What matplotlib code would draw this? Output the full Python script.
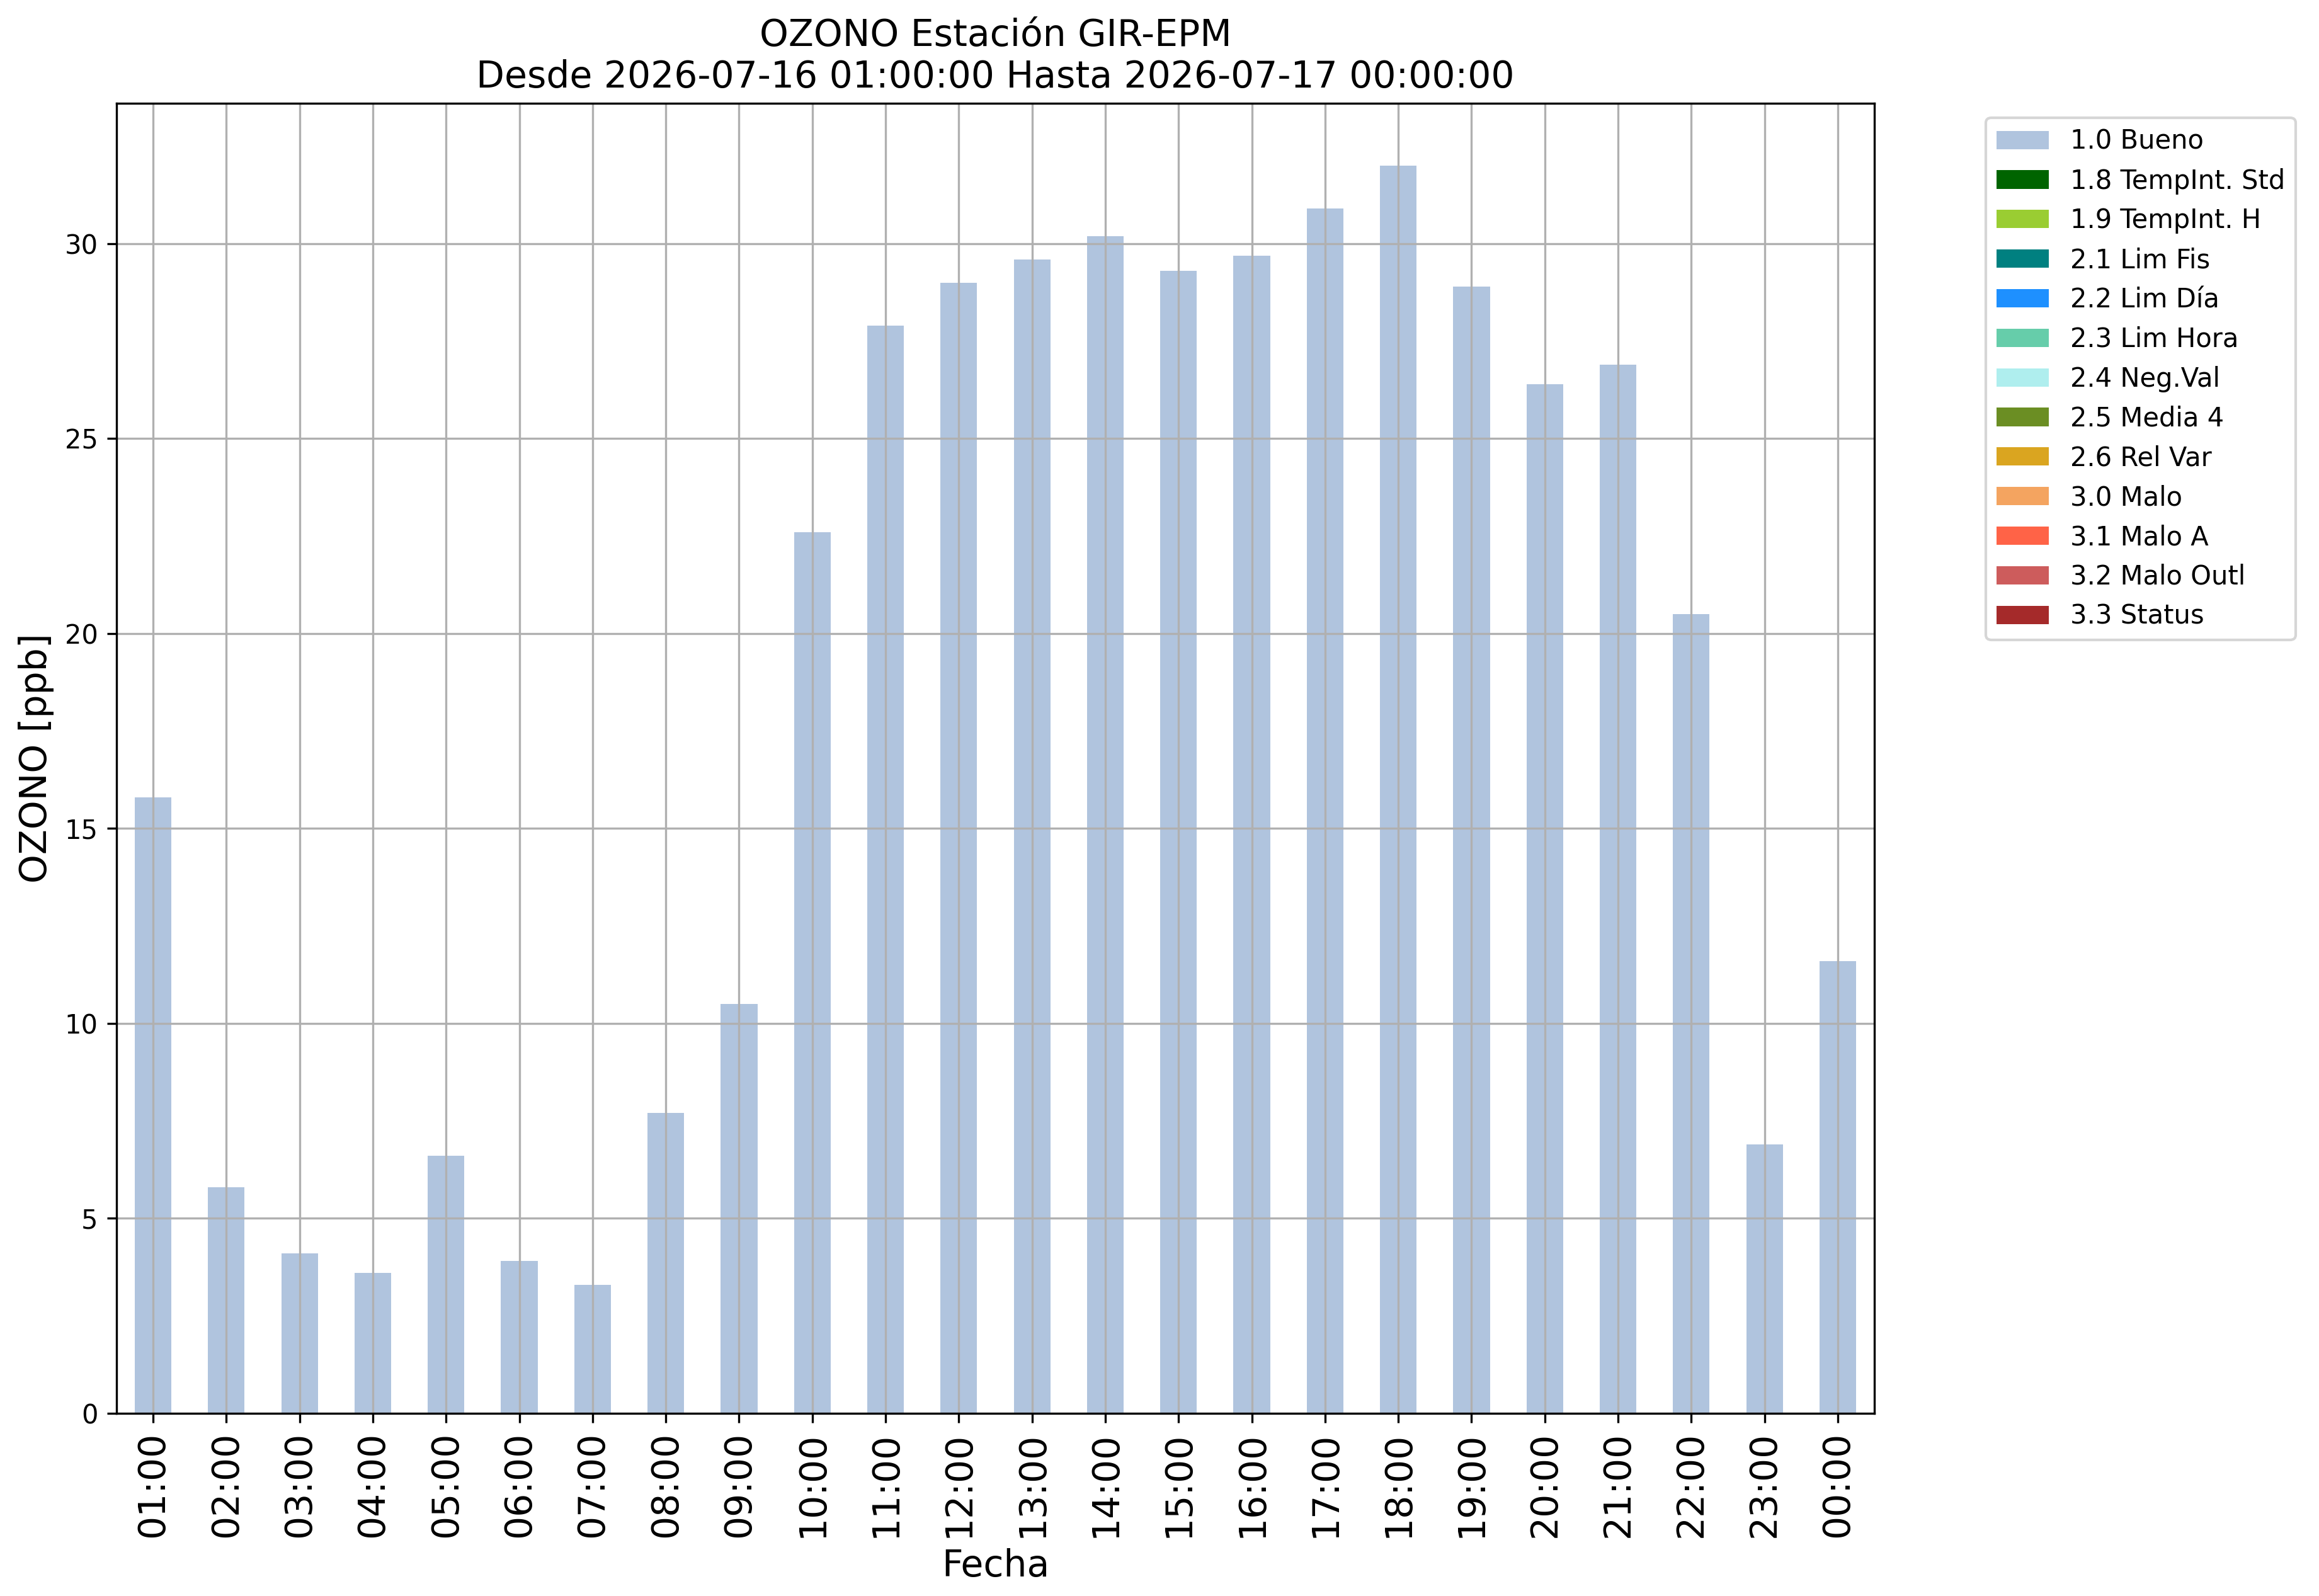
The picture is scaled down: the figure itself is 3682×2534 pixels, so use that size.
import matplotlib
matplotlib.use("Agg")
import matplotlib.pyplot as plt
import numpy as np

hours = ["01:00", "02:00", "03:00", "04:00", "05:00", "06:00", "07:00", "08:00",
         "09:00", "10:00", "11:00", "12:00", "13:00", "14:00", "15:00", "16:00",
         "17:00", "18:00", "19:00", "20:00", "21:00", "22:00", "23:00", "00:00"]

bueno = [15.8, 5.8, 4.1, 3.6, 6.6, 3.9, 3.3, 7.7, 10.5, 22.6, 27.9, 29.0,
         29.6, 30.2, 29.3, 29.7, 30.9, 32.0, 28.9, 26.4, 26.9, 20.5, 6.9, 11.6]

flag_labels = ["1.0 Bueno", "1.8 TempInt. Std", "1.9 TempInt. H", "2.1 Lim Fis",
               "2.2 Lim Día", "2.3 Lim Hora", "2.4 Neg.Val", "2.5 Media 4",
               "2.6 Rel Var", "3.0 Malo", "3.1 Malo A", "3.2 Malo Outl", "3.3 Status"]
flag_colors = ["lightsteelblue", "darkgreen", "yellowgreen", "teal", "dodgerblue",
               "mediumaquamarine", "paleturquoise", "olivedrab", "goldenrod",
               "sandybrown", "tomato", "indianred", "brown"]

# other flag series are empty (zero) in this period
series = [bueno] + [[0.0] * len(hours) for _ in flag_labels[1:]]

fig = plt.figure(figsize=(3682 / 300, 2534 / 300), dpi=300)
ax = fig.add_axes([0.0502, 0.1145, 0.8083 - 0.0502, 0.9352 - 0.1145])

x = np.arange(len(hours))
bottom = np.zeros(len(hours))
for vals, lab, col in zip(series, flag_labels, flag_colors):
    v = np.array(vals)
    ax.bar(x, v, width=0.5, bottom=bottom, color=col, label=lab)
    bottom = bottom + v

ax.set_xlim(-0.5, len(hours) - 0.5)
ax.set_ylim(0, bottom.max() * 1.05)
ax.set_xticks(x)
ax.set_xticklabels(hours, rotation=90, fontsize=14)
ax.tick_params(axis="y", labelsize=10)
ax.grid(True)
ax.set_xlabel("Fecha", fontsize=14)
ax.set_ylabel("OZONO [ppb]", fontsize=14)
ax.set_title("OZONO Estación GIR-EPM\nDesde 2026-07-16 01:00:00 Hasta 2026-07-17 00:00:00",
             fontsize=14)
ax.legend(bbox_to_anchor=(1.056, 0.999), loc="upper left", fontsize=10)

fig.savefig("out.png", dpi=300)
